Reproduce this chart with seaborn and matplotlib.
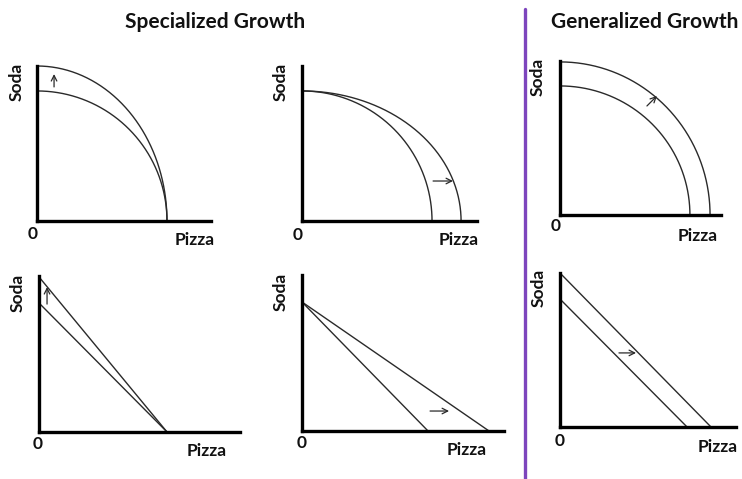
import numpy as np
import pandas as pd
import seaborn as sns
import matplotlib.pyplot as plt
from matplotlib.lines import Line2D

# Production possibility frontiers: intercepts on a 0-10 scale for each panel
panel_titles = ["Specialized Growth", "Generalized Growth"]
x_label = "Pizza"
y_label = "Soda"
origin_label = "0"

# Curved (increasing opportunity cost) frontiers: (pizza intercept, soda intercept)
curved_before = {"soda_up": (7.47, 8.39), "pizza_out": (7.43, 8.39), "both": (8.07, 8.38)}
curved_after = {"soda_up": (7.47, 10.0), "pizza_out": (9.09, 8.39), "both": (9.32, 9.94)}

# Straight (constant opportunity cost) frontiers
linear_before = {"soda_up": (6.37, 8.27), "pizza_out": (6.24, 8.27), "both": (7.22, 8.31)}
linear_after = {"soda_up": (6.37, 9.94), "pizza_out": (9.26, 8.27), "both": (8.58, 10.0)}

# Shift arrows: (tail x, tail y, head x, head y)
curved_arrows = {"soda_up": (0.98, 8.65, 0.98, 9.48),
                 "pizza_out": (7.49, 2.58, 8.63, 2.58),
                 "both": (5.40, 7.08, 6.02, 7.73)}
linear_arrows = {"soda_up": (0.40, 8.20, 0.40, 9.29),
                 "pizza_out": (6.34, 1.28, 7.28, 1.28),
                 "both": (3.35, 4.81, 4.32, 4.81)}

W, H = 742, 479
sns.set_theme(style="white")
plt.rcParams["font.family"] = ["Lato", "DejaVu Sans"]

fig = plt.figure(figsize=(W / 100, H / 100), dpi=100)


def fx(px):
    return px / W


def fy(py):
    return 1 - py / H


def make_axes(left, top, right, bottom):
    ax = fig.add_axes([fx(left), fy(bottom), (right - left) / W, (bottom - top) / H])
    ax.set_xlim(0, 10)
    ax.set_ylim(0, 10)
    ax.set_xticks([])
    ax.set_yticks([])
    ax.set_facecolor("none")
    for side in ("top", "right"):
        ax.spines[side].set_visible(False)
    for side in ("left", "bottom"):
        ax.spines[side].set_visible(True)
        ax.spines[side].set_color("black")
        ax.spines[side].set_linewidth(2.4)
        ax.spines[side].set_zorder(5)
    return ax


def frontier_curve(pizza, soda):
    t = np.linspace(0, np.pi / 2, 200)
    return pd.DataFrame({"x": pizza * np.sin(t), "y": soda * np.cos(t)})


def frontier_line(pizza, soda):
    return pd.DataFrame({"x": [0, pizza], "y": [soda, 0]})


def draw(ax, df):
    sns.lineplot(data=df, x="x", y="y", ax=ax, color="#2a2a2a", lw=1.0,
                 sort=False, estimator=None, clip_on=False)
    ax.set_xlabel("")
    ax.set_ylabel("")


def arrow(ax, a):
    ax.annotate("", xy=(a[2], a[3]), xytext=(a[0], a[1]),
                arrowprops=dict(arrowstyle="->", lw=0.9, color="#2a2a2a",
                                mutation_scale=10, shrinkA=0, shrinkB=0))


def labels(soda_xy, zero_xy, pizza_xy):
    kw = dict(fontsize=12.5, fontweight="bold", color="#111111", ha="center", va="center")
    fig.text(fx(soda_xy[0]), fy(soda_xy[1]), y_label, rotation=90, **kw)
    fig.text(fx(zero_xy[0]), fy(zero_xy[1]), origin_label, **kw)
    fig.text(fx(pizza_xy[0]), fy(pizza_xy[1]), x_label, **kw)


keys = ["soda_up", "pizza_out", "both"]
top_boxes = [(37, 66, 211, 221), (302, 66, 477, 221), (560, 61, 721, 215)]
bottom_boxes = [(39, 276, 240, 432), (302, 275, 504, 431), (560, 273, 736, 427)]

top_labels = [((17, 82), (33, 234), (195, 240)),
              ((281, 82), (298, 235), (459, 240)),
              ((538, 77), (556, 226), (698, 236))]
bottom_labels = [((18, 293), (38, 444), (207, 451)),
                 ((281, 292), (302, 443), (467, 450)),
                 ((539, 288), (560, 441), (718, 447))]

for key, box, lab in zip(keys, top_boxes, top_labels):
    ax = make_axes(*box)
    draw(ax, frontier_curve(*curved_before[key]))
    draw(ax, frontier_curve(*curved_after[key]))
    arrow(ax, curved_arrows[key])
    labels(*lab)

for key, box, lab in zip(keys, bottom_boxes, bottom_labels):
    ax = make_axes(*box)
    draw(ax, frontier_line(*linear_before[key]))
    draw(ax, frontier_line(*linear_after[key]))
    arrow(ax, linear_arrows[key])
    labels(*lab)

# Section headings and divider
fig.text(fx(215), fy(22), panel_titles[0], fontsize=15, fontweight="bold",
         color="#111111", ha="center", va="center")
fig.text(fx(645), fy(22), panel_titles[1], fontsize=15, fontweight="bold",
         color="#111111", ha="center", va="center")
fig.add_artist(Line2D([fx(525), fx(525)], [fy(9), fy(479)], color="#7d45bd", lw=2.4,
                      transform=fig.transFigure))

fig.savefig("out.png", dpi=100, facecolor="white")
